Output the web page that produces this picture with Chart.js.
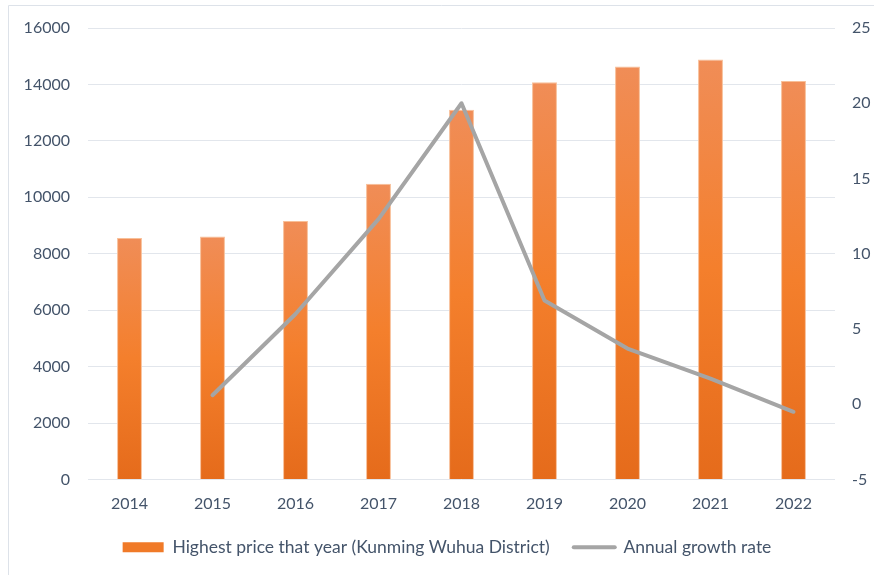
<!DOCTYPE html>
<html>
<head>
<meta charset="utf-8">
<script src="https://cdn.jsdelivr.net/npm/chart.js@4.4.1/dist/chart.umd.min.js"></script>
<style>
  html, body { margin: 0; padding: 0; background: #ffffff; }
  #wrap { position: relative; width: 874px; height: 575px; }
</style>
</head>
<body>
<div id="wrap"><canvas id="chart" width="874" height="575"></canvas></div>
<script>
// Yearly figures for Kunming Wuhua District
const years = ['2014', '2015', '2016', '2017', '2018', '2019', '2020', '2021', '2022'];
const highestPrice = [8560, 8610, 9160, 10480, 13100, 14080, 14640, 14880, 14120];
const growthRate = [null, 0.6, 6.0, 12.3, 20.0, 6.9, 3.7, 1.7, -0.5];

const priceLabel = 'Highest price that year (Kunming Wuhua District)';
const growthLabel = 'Annual growth rate';

const textColor = '#44546A';
const gridColor = '#E2E6EC';
const fontFamily = 'Lato, "Open Sans", sans-serif';

// vertical orange gradient, lighter at the top of each bar
function barGradient(ctx) {
  const chart = ctx.chart;
  const area = chart.chartArea;
  if (!area || ctx.type !== 'data') return '#F47F2E';
  const y = chart.scales.y;
  const top = y.getPixelForValue(ctx.parsed ? ctx.parsed.y : ctx.raw);
  const base = y.getPixelForValue(0);
  if (!isFinite(top) || !isFinite(base) || base - top < 1) return '#F47F2E';
  const g = chart.ctx.createLinearGradient(0, top, 0, base);
  g.addColorStop(0, '#F08D57');
  g.addColorStop(0.5, '#F47F2C');
  g.addColorStop(1, '#E56B1B');
  return g;
}

// thin outline around the whole chart
const framePlugin = {
  id: 'frame',
  beforeDraw(chart) {
    const c = chart.ctx;
    c.save();
    c.strokeStyle = '#DDE2E9';
    c.lineWidth = 1;
    c.beginPath();
    c.moveTo(8.5, chart.height);
    c.lineTo(8.5, 5.5);
    c.lineTo(chart.width, 5.5);
    c.stroke();
    c.restore();
  }
};

new Chart(document.getElementById('chart'), {
  data: {
    labels: years,
    datasets: [
      {
        type: 'line',
        label: growthLabel,
        data: growthRate,
        yAxisID: 'y1',
        borderColor: '#A5A5A5',
        backgroundColor: '#A5A5A5',
        borderWidth: 4,
        pointRadius: 0,
        pointHoverRadius: 0,
        tension: 0,
        borderCapStyle: 'round',
        borderJoinStyle: 'round',
        pointStyle: 'line',
        order: 1
      },
      {
        type: 'bar',
        label: priceLabel,
        data: highestPrice,
        yAxisID: 'y',
        backgroundColor: barGradient,
        borderColor: '#F8BF98',
        borderWidth: 1,
        barPercentage: 0.3,
        categoryPercentage: 1.0,
        pointStyle: 'rect',
        order: 2
      }
    ]
  },
  options: {
    responsive: false,
    animation: false,
    events: [],
    layout: { padding: { top: 28, left: 20, right: 0, bottom: 9 } },
    plugins: {
      tooltip: { enabled: false },
      legend: {
        position: 'bottom',
        reverse: true,
        labels: {
          usePointStyle: true,
          pointStyleWidth: 41,
          boxHeight: 10,
          padding: 24,
          color: textColor,
          font: { family: fontFamily, size: 17.5 },
          generateLabels(chart) {
            return chart.data.datasets.map((ds, i) => {
              const isLine = ds.type === 'line';
              return {
                text: ds.label,
                datasetIndex: i,
                fillStyle: isLine ? '#A5A5A5' : '#F07A28',
                strokeStyle: '#A5A5A5',
                lineWidth: isLine ? 4 : 0,
                lineCap: 'round',
                pointStyle: isLine ? 'line' : 'rect',
                fontColor: textColor,
                hidden: false
              };
            });
          }
        }
      }
    },
    scales: {
      x: {
        grid: { display: false, drawTicks: false },
        border: { display: false },
        ticks: { color: textColor, font: { family: fontFamily, size: 16 }, padding: 15, maxRotation: 0 },
        afterFit(scale) { scale.height = 35; }
      },
      y: {
        position: 'left',
        min: 0,
        max: 16000,
        ticks: {
          stepSize: 2000,
          color: textColor,
          font: { family: fontFamily, size: 16 },
          padding: 18,
          callback: (v) => String(v)
        },
        grid: { color: gridColor, lineWidth: 1, drawTicks: false },
        border: { display: false },
        afterFit(scale) { scale.width = 68; }
      },
      y1: {
        position: 'right',
        min: -5,
        max: 25,
        ticks: { stepSize: 5, color: textColor, font: { family: fontFamily, size: 16 }, padding: 17 },
        grid: { display: false, drawTicks: false },
        border: { display: false },
        afterFit(scale) { scale.width = 39; }
      }
    }
  },
  plugins: [framePlugin]
});
</script>
</body>
</html>
